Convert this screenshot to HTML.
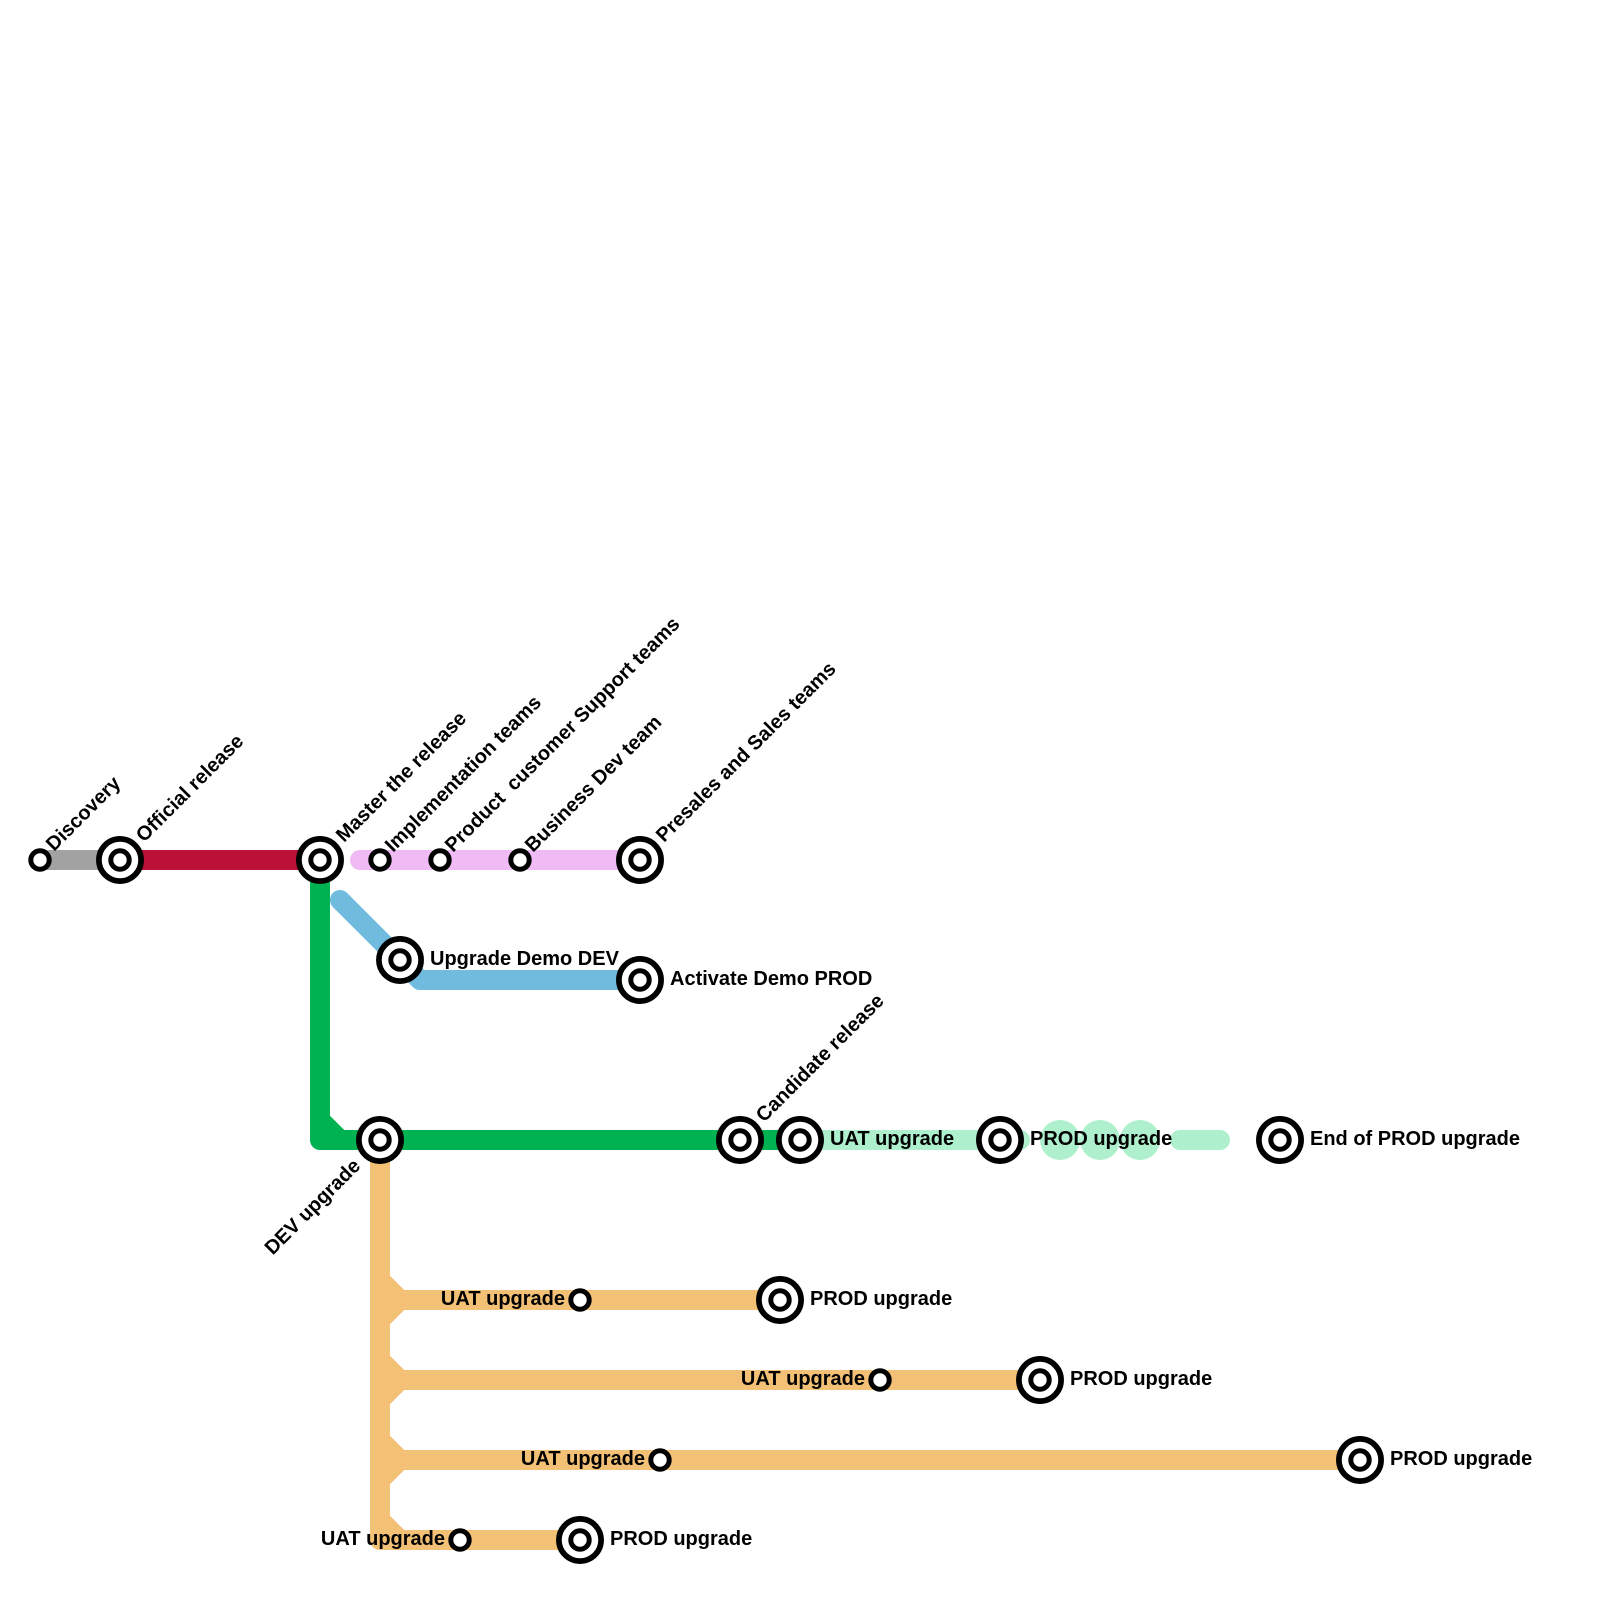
<!DOCTYPE html>
<html><head><meta charset="utf-8"><style>html,body{margin:0;padding:0;background:#fff}svg{display:block}text{font-family:"Liberation Sans",Arial,sans-serif;font-weight:bold;font-size:20px;fill:#000;white-space:pre}.e{text-anchor:end}</style></head><body>
<svg xmlns="http://www.w3.org/2000/svg" width="1600" height="1600" viewBox="0 0 1600 1600">
<rect width="1600" height="1600" fill="#fff"/>
<g fill="none" stroke-width="20" stroke-linecap="round" stroke-linejoin="round">
<path d="M40 860H120" stroke="#a2a2a2"/>
<path d="M120 860H320" stroke="#bb1038"/>
<path d="M360 860H640" stroke="#f0bbf5"/>
<path d="M340 900L420 980H640" stroke="#71bbdf"/>
<path d="M800 1140H1020M1180 1140H1220" stroke="#aef0cd"/>
<path d="M380 1140V1540H580M380 1280L400 1300L380 1320M400 1300H780M380 1360L400 1380L380 1400M400 1380H1040M380 1440L400 1460L380 1480M400 1460H1360M380 1520L400 1540" stroke="#f3c175"/>
<path d="M320 860V1140H800M320 1120L340 1140" stroke="#00b251"/>
</g>
<g fill="#aef0cd"><circle cx="1060" cy="1140" r="20"/><circle cx="1100" cy="1140" r="20"/><circle cx="1140" cy="1140" r="20"/></g>
<g fill="#fff" stroke="#000">
<g stroke-width="5.7">
<circle cx="120" cy="860" r="21.1"/><circle cx="320" cy="860" r="21.1"/><circle cx="640" cy="860" r="21.1"/><circle cx="400" cy="960" r="21.1"/><circle cx="640" cy="980" r="21.1"/><circle cx="380" cy="1140" r="21.1"/><circle cx="740" cy="1140" r="21.1"/><circle cx="800" cy="1140" r="21.1"/><circle cx="1000" cy="1140" r="21.1"/><circle cx="1280" cy="1140" r="21.1"/><circle cx="780" cy="1300" r="21.1"/><circle cx="1040" cy="1380" r="21.1"/><circle cx="1360" cy="1460" r="21.1"/><circle cx="580" cy="1540" r="21.1"/>
</g>
<g stroke-width="5">
<circle cx="120" cy="860" r="9.2"/><circle cx="320" cy="860" r="9.2"/><circle cx="640" cy="860" r="9.2"/><circle cx="400" cy="960" r="9.2"/><circle cx="640" cy="980" r="9.2"/><circle cx="380" cy="1140" r="9.2"/><circle cx="740" cy="1140" r="9.2"/><circle cx="800" cy="1140" r="9.2"/><circle cx="1000" cy="1140" r="9.2"/><circle cx="1280" cy="1140" r="9.2"/><circle cx="780" cy="1300" r="9.2"/><circle cx="1040" cy="1380" r="9.2"/><circle cx="1360" cy="1460" r="9.2"/><circle cx="580" cy="1540" r="9.2"/>
<circle cx="40" cy="860" r="9.2"/><circle cx="380" cy="860" r="9.2"/><circle cx="440" cy="860" r="9.2"/><circle cx="520" cy="860" r="9.2"/><circle cx="580" cy="1300" r="9.2"/><circle cx="880" cy="1380" r="9.2"/><circle cx="660" cy="1460" r="9.2"/><circle cx="460" cy="1540" r="9.2"/>
</g>
</g>
<text transform="translate(54 852) rotate(-45)">Discovery</text>
<text transform="translate(144 843) rotate(-45)">Official release</text>
<text transform="translate(344 843) rotate(-45)">Master the release</text>
<text transform="translate(393 853) rotate(-45)">Implementation teams</text>
<text transform="translate(453 853) rotate(-45)">Product  customer Support teams</text>
<text transform="translate(533 853) rotate(-45)">Business Dev team</text>
<text transform="translate(664 843) rotate(-45)">Presales and Sales teams</text>
<text transform="translate(764 1123) rotate(-45)">Candidate release</text>
<text class="e" transform="translate(361.5 1167) rotate(-45)">DEV upgrade</text>
<text x="430" y="965">Upgrade Demo DEV</text>
<text x="670" y="985">Activate Demo PROD</text>
<text x="830" y="1145">UAT upgrade</text>
<text x="1030" y="1145">PROD upgrade</text>
<text x="1310" y="1145">End of PROD upgrade</text>
<text x="810" y="1305">PROD upgrade</text>
<text x="1070" y="1385">PROD upgrade</text>
<text x="1390" y="1465">PROD upgrade</text>
<text x="610" y="1545">PROD upgrade</text>
<text class="e" x="565" y="1305">UAT upgrade</text>
<text class="e" x="865" y="1385">UAT upgrade</text>
<text class="e" x="645" y="1465">UAT upgrade</text>
<text class="e" x="445" y="1545">UAT upgrade</text>
</svg>
</body></html>
